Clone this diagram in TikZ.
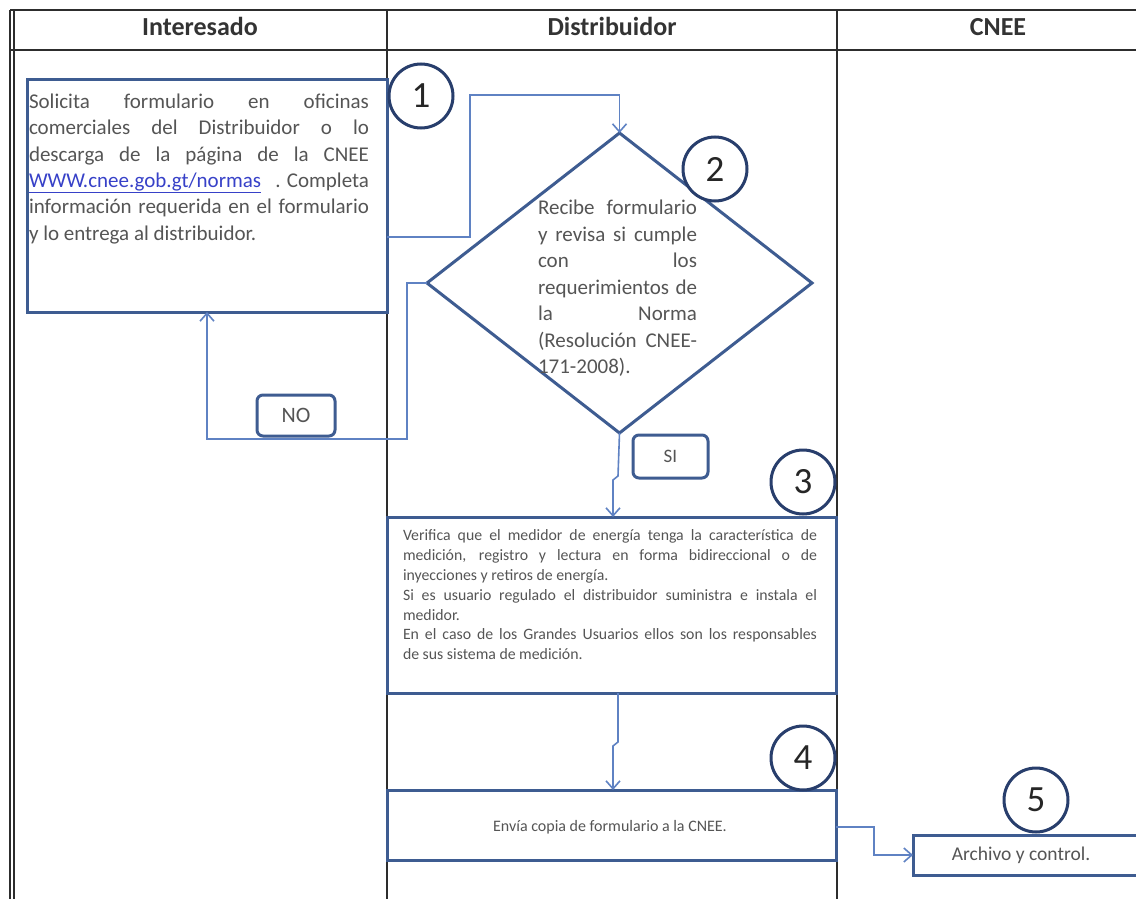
\documentclass[tikz,border=0pt]{standalone}
\usepackage{fontspec}
\setmainfont{Carlito}
\usetikzlibrary{arrows.meta,shapes.geometric}
\definecolor{boxblue}{RGB}{62,92,145}
\definecolor{circblue}{RGB}{40,62,108}
\definecolor{conblue}{RGB}{95,130,195}
\definecolor{txtgray}{RGB}{85,85,85}
\definecolor{linkblue}{RGB}{55,65,200}
\definecolor{tabline}{RGB}{45,45,45}
\newcommand{\jl}[2]{\makebox[#1][s]{#2}}
\newcommand{\fontspaces}{\spaceskip=0pt\xspaceskip=0pt\relax}
\begin{document}
\begin{tikzpicture}[x=1pt,y=-1pt,
  box/.style={draw=boxblue,line width=3pt,fill=white,inner sep=0pt,outer sep=0pt,rectangle},
  numcirc/.style={circle,draw=circblue,line width=3pt,fill=white,minimum size=64pt,inner sep=0pt,outer sep=0pt,font=\fontsize{37}{37}\selectfont,text=black!85},
  conn/.style={draw=conblue,line width=1.6pt,-{Straight Barb[length=8pt,width=14pt]}},
  txt/.style={inner sep=0pt,outer sep=0pt,text=txtgray,align=left},
  lbl/.style={draw=boxblue,line width=3pt,rounded corners=6pt,fill=white,text=txtgray,inner sep=0pt,outer sep=0pt},
  tab/.style={draw=tabline,line width=1.2pt},
  head/.style={font=\fontsize{26}{26}\selectfont\bfseries,text=black!80,anchor=base,inner sep=0pt},
]
\useasboundingbox (0,0) rectangle (1136,899);
\fill[white] (0,0) rectangle (1136,899);
\begin{scope}
\clip (0,0) rectangle (1136,899);
% table
\draw[tab] (10,10) -- (1140,10);
\draw[draw=tabline,line width=2.5pt] (10,50) -- (1140,50);
\draw[tab] (10,10) -- (10,900);
\draw[tab] (14,10) -- (14,900);
\draw[tab] (387,10) -- (387,900);
\draw[tab] (837,10) -- (837,900);
\node[head] (h1) at (200,36) {Interesado};
\node[head] (h2) at (612,36) {Distribuidor};
\node[head] (h3) at (998,36) {CNEE};

% boxes
\node[box,minimum width=360,minimum height=232,anchor=north west] (b1) at (27,80) {};
\node[diamond,draw=boxblue,line width=3pt,fill=white,minimum width=385,minimum height=300,inner sep=0pt,outer sep=0pt] (d) at (619.5,283) {};
\node[box,minimum width=449,minimum height=176,anchor=north west] (b3) at (387,517) {};
\node[box,minimum width=449,minimum height=70,anchor=north west] (b4) at (387,790) {};
\node[box,minimum width=232,minimum height=40,anchor=north west] (b5) at (913,835) {};

% texts
\node[txt,anchor=north west,text width=340pt,font=\fontsize{21}{26.3}\selectfont] (t1) at (29,94) {\fontspaces
\jl{340pt}{Solicita formulario en oficinas}\\
\jl{340pt}{comerciales del Distribuidor o lo}\\
\jl{340pt}{descarga de la página de la CNEE}\\
\makebox[340pt][l]{{\color{linkblue}\underline{WWW.cnee.gob.gt/normas}}\hfill . Completa}\\
\jl{340pt}{información requerida en el formulario}\\
y lo entrega al distribuidor.};

\node[txt,anchor=north west,text width=159pt,font=\fontsize{21}{26.5}\selectfont] (t2) at (538,200) {\fontspaces
\jl{159pt}{Recibe formulario}\\
\jl{159pt}{y revisa si cumple}\\
\jl{159pt}{con los}\\
\jl{159pt}{requerimientos de}\\
\jl{159pt}{la Norma}\\
\jl{159pt}{(Resolución CNEE-}\\
171-2008).};

\node[txt,anchor=north west,text width=414pt,font=\fontsize{15.8}{19.8}\selectfont] (t3) at (403,530) {\fontspaces
\jl{414pt}{Verifica que el medidor de energía tenga la característica de}\\
\jl{414pt}{medición, registro y lectura en forma bidireccional o de}\\
inyecciones y retiros de energía.\\
\jl{414pt}{Si es usuario regulado el distribuidor suministra e instala el}\\
medidor.\\
\jl{414pt}{En el caso de los Grandes Usuarios ellos son los responsables}\\
de sus sistema de medición.};

\node[txt,font=\fontsize{16}{19}\selectfont] (t4) at (610,827) {Envía copia de formulario a la CNEE.};
\node[txt,font=\fontsize{19.5}{24}\selectfont] (t5) at (1021,855) {Archivo y control.};

% labels
\node[lbl,minimum width=78,minimum height=41,font=\fontsize{22}{22}\selectfont] (no) at (296,415.5) {NO};
\node[lbl,minimum width=75,minimum height=43,font=\fontsize{19}{19}\selectfont] (si) at (670.5,456.5) {SI};

% connectors
\draw[conn] ([yshift=-41pt]b1.east) -- (470,237) -- (470,95) -| (d.north);
\draw[conn] (d.west) -| (407,439) -| (b1.south);
\draw[conn] (d.south) -- (618,476) -- (613,480) -- ([xshift=1.5pt]b3.north);
\draw[conn] ([xshift=6.5pt]b3.south) -- (618,742) -- (613,746) -- ([xshift=1.5pt]b4.north);
\draw[conn] ([yshift=-2pt]b4.east) -- (874,827) |- (b5.west);

% numbers
\node[numcirc] (c1) at (421,96) {1};
\node[numcirc] (c2) at (715,169) {2};
\node[numcirc] (c3) at (803,482) {3};
\node[numcirc] (c4) at (803,758) {4};
\node[numcirc] (c5) at (1036,800) {5};
\end{scope}
\end{tikzpicture}
\end{document}
